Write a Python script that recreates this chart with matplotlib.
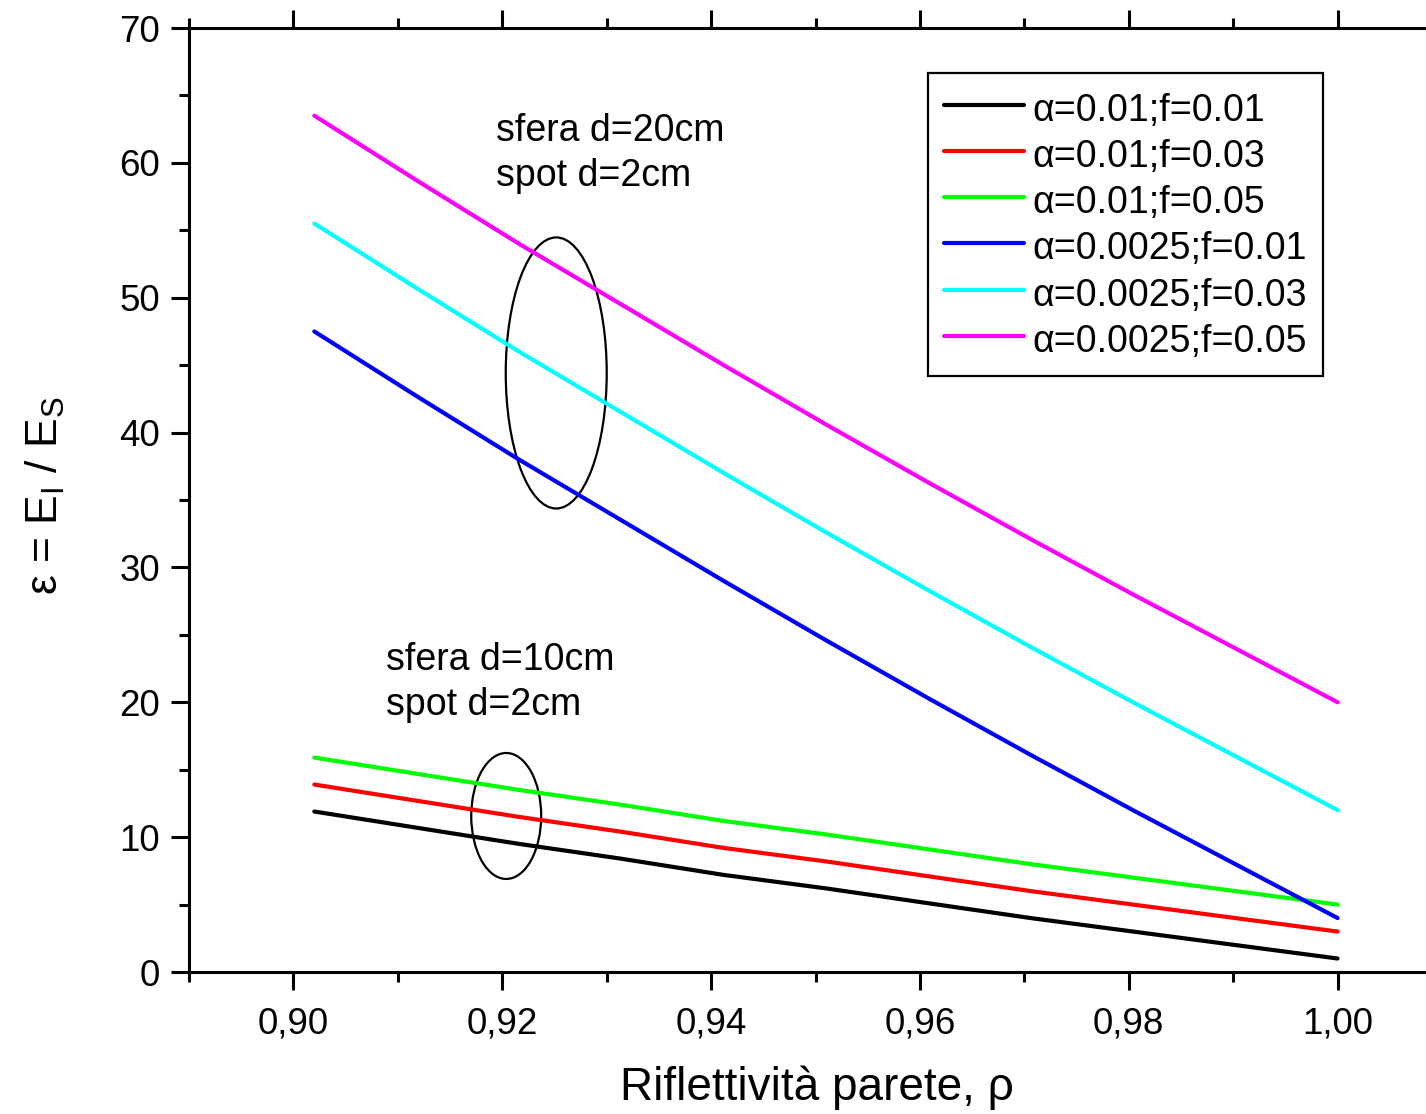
import matplotlib
matplotlib.use("Agg")
import matplotlib.pyplot as plt
from matplotlib.patches import Ellipse
from matplotlib.ticker import MultipleLocator, FuncFormatter

plt.rcParams['font.family'] = ['Liberation Sans', 'DejaVu Sans']
plt.rcParams['mathtext.fontset'] = 'custom'
plt.rcParams['mathtext.rm'] = 'Liberation Sans'
plt.rcParams['mathtext.it'] = 'Liberation Sans:italic'

# Wall reflectivity samples
rho = [0.902, 0.9118, 0.9216, 0.9314, 0.9412, 0.951, 0.9608, 0.9706, 0.9804, 0.9902, 1.0]

# epsilon = E_I / E_S for each (alpha, f) pair
eps_a010_f001 = [11.9, 10.7, 9.5, 8.4, 7.2, 6.2, 5.1, 4.0, 3.0, 2.0, 1.0]
eps_a010_f003 = [13.9, 12.7, 11.5, 10.4, 9.2, 8.2, 7.1, 6.0, 5.0, 4.0, 3.0]
eps_a010_f005 = [15.9, 14.7, 13.5, 12.4, 11.2, 10.2, 9.1, 8.0, 7.0, 6.0, 5.0]
eps_a0025_f001 = [47.5, 42.7, 38.0, 33.5, 29.0, 24.6, 20.3, 16.1, 12.0, 8.0, 4.0]
eps_a0025_f003 = [55.5, 50.7, 46.0, 41.5, 37.0, 32.6, 28.3, 24.1, 20.0, 16.0, 12.0]
eps_a0025_f005 = [63.5, 58.7, 54.0, 49.5, 45.0, 40.6, 36.3, 32.1, 28.0, 24.0, 20.0]

series = [
    (eps_a010_f001, "#000000", "α=0.01;f=0.01"),
    (eps_a010_f003, "#ff0000", "α=0.01;f=0.03"),
    (eps_a010_f005, "#00ff00", "α=0.01;f=0.05"),
    (eps_a0025_f001, "#0000ff", "α=0.0025;f=0.01"),
    (eps_a0025_f003, "#00ffff", "α=0.0025;f=0.03"),
    (eps_a0025_f005, "#ff00ff", "α=0.0025;f=0.05"),
]

W, H = 1426, 1114
fig = plt.figure(figsize=(W / 100, H / 100), dpi=100)
ax = fig.add_axes([189 / W, 142 / H, 1253 / W, 944 / H])

for vals, col, lab in series:
    ax.plot(rho, vals, color=col, lw=3.0, label=lab, solid_capstyle='round')

ax.set_xlim(0.89, 1.01)
ax.set_ylim(0, 70)

ax.xaxis.set_major_locator(MultipleLocator(0.02))
ax.xaxis.set_minor_locator(MultipleLocator(0.01))
ax.yaxis.set_major_locator(MultipleLocator(10))
ax.yaxis.set_minor_locator(MultipleLocator(5))
ax.xaxis.set_major_formatter(FuncFormatter(lambda v, p: f"{v:.2f}".replace('.', ',')))

ax.tick_params(which='both', direction='out', top=True, right=False, width=2.2, labelsize=26.5)
ax.tick_params(which='major', length=13)
ax.tick_params(which='minor', length=7)
ax.tick_params(axis='x', which='major', pad=12)
ax.tick_params(axis='y', which='major', pad=8)
for s in ax.spines.values():
    s.set_linewidth(2.2)

ax.set_xlabel("Riflettività parete, ρ", fontsize=33)
ax.xaxis.set_label_coords(0.501, -0.123)
ax.xaxis.label.set_va('center')
ax.set_ylabel(r"ε = E$_\mathregular{I}$ / E$_\mathregular{S}$", fontsize=32)
ax.yaxis.set_label_coords(-0.115, 0.505)
ax.yaxis.label.set_va('center')

# Groupings around curve families
ax.add_patch(Ellipse((0.92517, 44.42), 0.00967, 20.1, fill=False, ec='black', lw=1.6))
ax.add_patch(Ellipse((0.92038, 11.57), 0.0067, 9.34, fill=False, ec='black', lw=1.6))

ax.text(0.91943, 63.7, "sfera d=20cm\nspot d=2cm", fontsize=27, ha='left', va='top',
        linespacing=1.31)
ax.text(0.9089, 24.48, "sfera d=10cm\nspot d=2cm", fontsize=27, ha='left', va='top',
        linespacing=1.31)

leg = ax.legend(loc='upper left', bbox_to_anchor=(0.5898, 0.9523), borderaxespad=0,
                fontsize=27, handlelength=2.15, handleheight=1.2, handletextpad=0.22,
                borderpad=0.42, labelspacing=0.17, fancybox=False, framealpha=1,
                edgecolor='black')
leg.get_frame().set_linewidth(1.6)

fig.savefig("out.png", dpi=100)
